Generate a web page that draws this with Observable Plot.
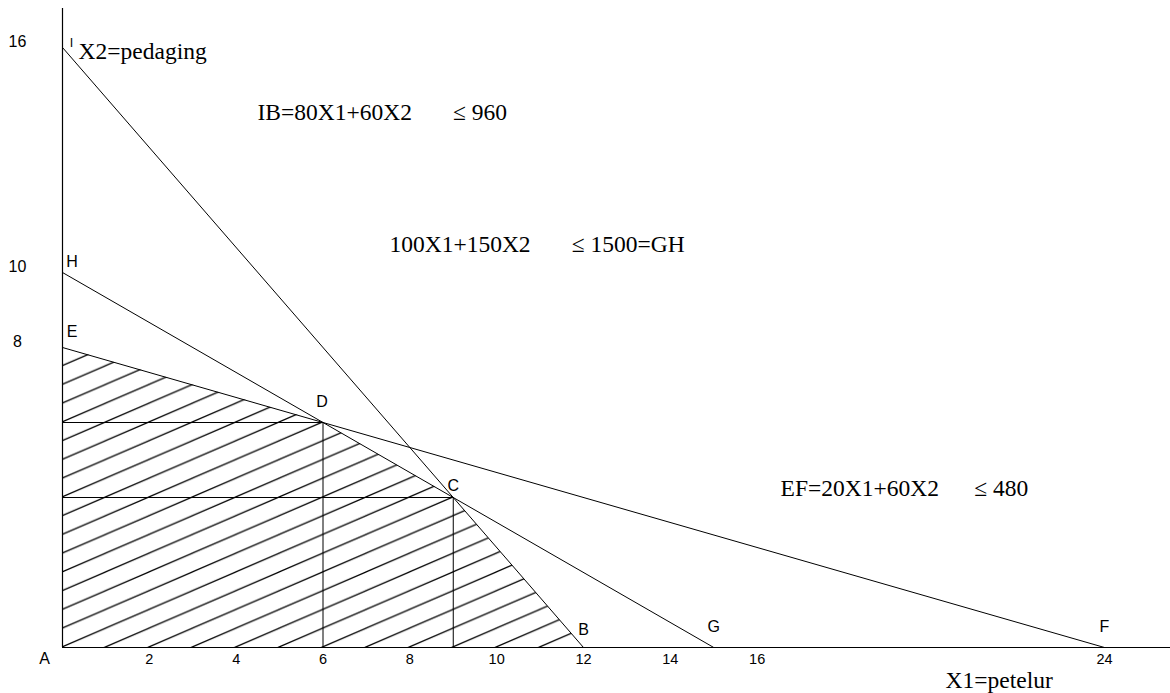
<!DOCTYPE html>
<html><head><meta charset="utf-8">
<script src="https://cdn.jsdelivr.net/npm/d3@7"></script>
<script src="https://cdn.jsdelivr.net/npm/@observablehq/plot@0.6"></script>
<style>body{margin:0;background:#fff} svg{display:block}</style>
</head><body><div id="chart"></div>
<script>
// Constraint lines (x2-intercept, x1-intercept)
const constraintNames = ["IB", "GH", "EF"];
const constraintX2Intercept = [16, 10, 8];
const constraintX1Intercept = [12, 15, 24];
// Labelled points
const pointNames = ["I", "H", "E", "D", "C", "B", "G", "F", "A"];
const pointX1 = [0, 0, 0, 6, 9, 12, 15, 24, 0];
const pointX2 = [16, 10, 8, 6, 4, 0, 0, 0, 0];
// Feasible region upper boundary E-D-C-B
const regionX1 = [0, 6, 9, 12];
const regionX2 = [8, 6, 4, 0];
// Guide corners (D and C)
const guideX1 = [6, 9];
const guideX2 = [6, 4];
// Tick labels
const xTickLabels = [2, 4, 6, 8, 10, 12, 14, 16, 24];
const yTickLabels = [16, 10, 8];
// Annotation texts
const annotationTexts = [
  "X2=pedaging",
  "IB=80X1+60X2\u00a0\u00a0\u00a0\u00a0\u00a0\u00a0\u00a0\u2264 960",
  "100X1+150X2\u00a0\u00a0\u00a0\u00a0\u00a0\u00a0\u00a0\u2264 1500=GH",
  "EF=20X1+60X2\u00a0\u00a0\u00a0\u00a0\u00a0\u00a0\u2264 480",
  "X1=petelur"
];

// layout (data-space anchors for annotations, pixel offsets for labels)
const annotationAnchors = [[0.37, 15.70], [4.49, 14.07], [7.53, 10.55], [16.54, 4.05], [20.34, -1.09]];
const pointLabelOffsets = {I:[9,-5,12.5], H:[9.5,-10.5,16], E:[9.5,-15.5,16], D:[-1,-21,16], C:[0,-12,16], B:[0,-18,16], G:[0,-21,16], F:[0,-21,16], A:[-18,11,16]};

const lines = constraintNames.map((n, i) => ({name: n, y0: constraintX2Intercept[i], x0: constraintX1Intercept[i]}));
const points = pointNames.map((n, i) => ({name: n, x: pointX1[i], y: pointX2[i]}));
const region = regionX1.map((x, i) => ({x, y: regionX2[i]}));
const guides = guideX1.map((x, i) => ({x, y: guideX2[i]}));
const annotations = annotationTexts.map((t, i) => ({text: t, x: annotationAnchors[i][0], y: annotationAnchors[i][1]}));

const sans = "Liberation Sans, Arial, sans-serif";
const serif = "Liberation Serif, Times New Roman, serif";

const chart = Plot.plot({
  width: 1170, height: 693,
  marginLeft: 62, marginRight: 0, marginTop: 8, marginBottom: 46,
  x: {domain: [0, 25.52], axis: null},
  y: {domain: [0, 17.04], axis: null},
  style: {background: "#fff"},
  marks: [
    Plot.areaY(region, {x: "x", y1: 0, y2: "y", fill: "url(#hatch)", curve: "linear"}),
    Plot.ruleY(guides, {y: "y", x1: 0, x2: "x", stroke: "#000", strokeWidth: 1}),
    Plot.ruleX(guides, {x: "x", y1: 0, y2: "y", stroke: "#000", strokeWidth: 1}),
    Plot.link(lines, {x1: 0, y1: "y0", x2: "x0", y2: 0, stroke: "#000", strokeWidth: 1}),
    Plot.ruleY([0], {stroke: "#000", strokeWidth: 1.2}),
    Plot.ruleX([0], {stroke: "#000", strokeWidth: 1.2}),
    Plot.text(xTickLabels, {x: d => d, y: 0, text: d => String(d), dy: 12, fontFamily: sans, fontSize: 14.5, fill: "#000"}),
    Plot.text(yTickLabels, {x: 0, y: d => d, text: d => String(d), dx: -45, dy: -5.5, fontFamily: sans, fontSize: 16, fill: "#000"}),
    ...points.map(p => Plot.text([p], {x: "x", y: "y", text: "name",
      dx: pointLabelOffsets[p.name][0], dy: pointLabelOffsets[p.name][1],
      fontSize: pointLabelOffsets[p.name][2], fontFamily: sans, fill: "#000"})),
    Plot.text(annotations, {x: "x", y: "y", text: "text", textAnchor: "start", lineAnchor: "bottom",
      fontFamily: serif, fontSize: 23.5, fill: "#000"})
  ]
});

// hatch pattern aligned with the data scales
const sx = chart.scale("x"), sy = chart.scale("y");
const px0 = sx.apply(0), py0 = sy.apply(0);
const w = sx.apply(1) - px0, h = py0 - sy.apply(0.5);
const ns = "http://www.w3.org/2000/svg";
const defs = document.createElementNS(ns, "defs");
const pat = document.createElementNS(ns, "pattern");
pat.setAttribute("id", "hatch");
pat.setAttribute("patternUnits", "userSpaceOnUse");
pat.setAttribute("x", px0); pat.setAttribute("y", py0);
pat.setAttribute("width", w); pat.setAttribute("height", h);
const path = document.createElementNS(ns, "path");
path.setAttribute("d", `M${-w},${2*h}L${2*w},${-h}M${-w},${h}L${2*w},${-2*h}M${-w},${3*h}L${2*w},0`);
path.setAttribute("stroke", "#000");
path.setAttribute("stroke-width", "1.25");
path.setAttribute("fill", "none");
pat.appendChild(path);
defs.appendChild(pat);
chart.insertBefore(defs, chart.firstChild);

document.getElementById("chart").appendChild(chart);
</script>
</body></html>
